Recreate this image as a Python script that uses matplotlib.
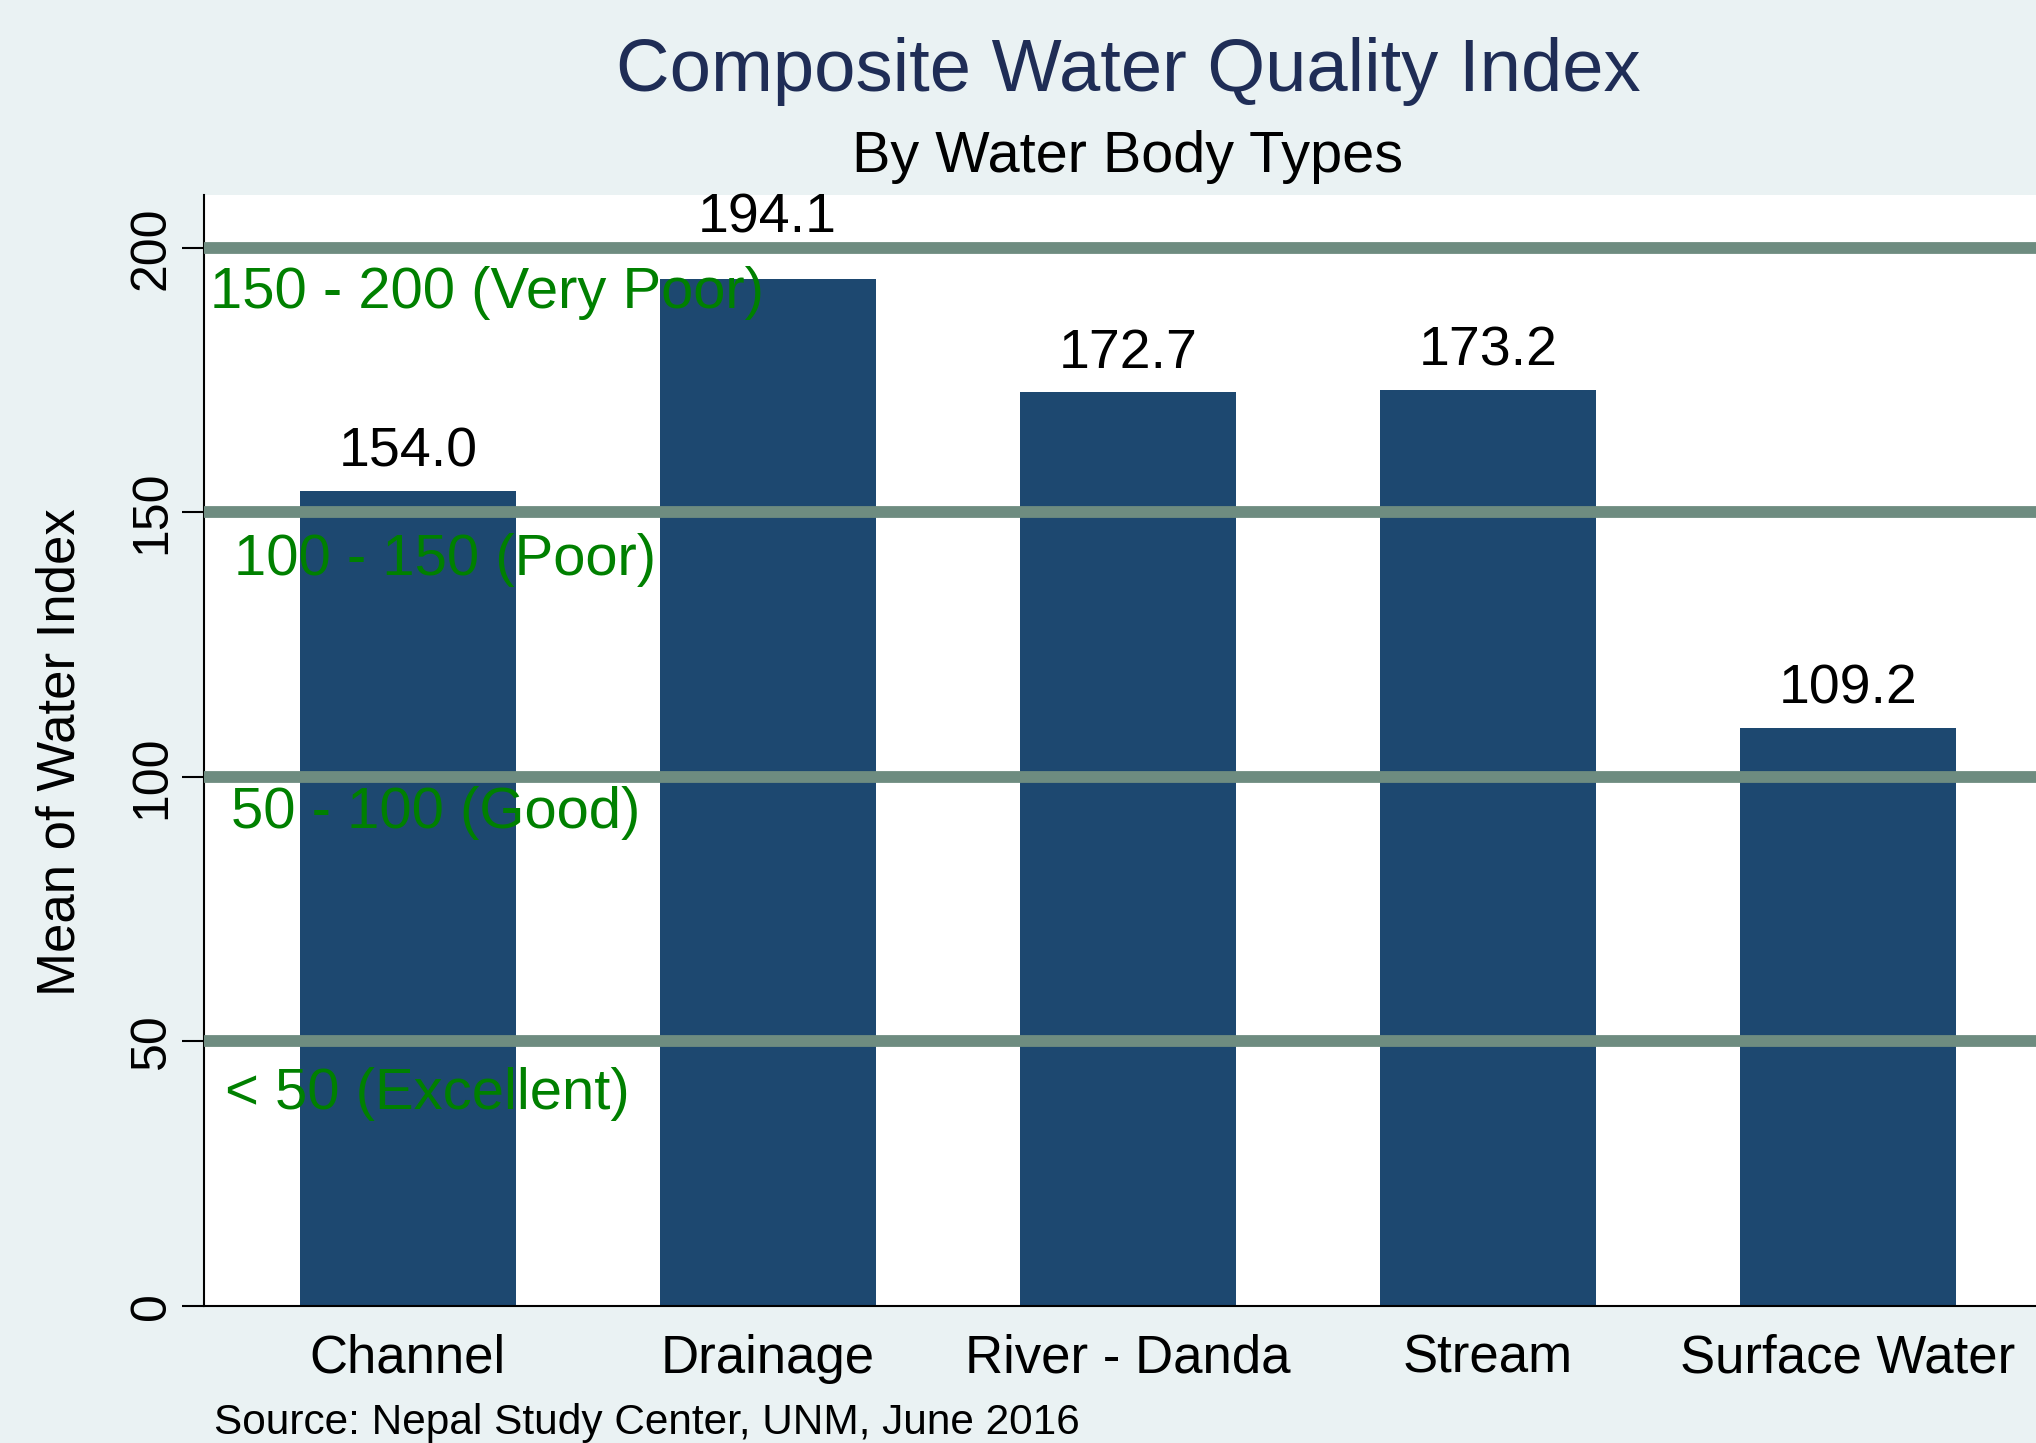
import matplotlib
matplotlib.use("Agg")
import matplotlib.pyplot as plt

plt.rcParams['font.family'] = ['Liberation Sans', 'DejaVu Sans']

# Mean composite water quality index by water body type
categories = ['Channel', 'Drainage', 'River - Danda', 'Stream', 'Surface Water']
mean_index = [154.0, 194.1, 172.7, 173.2, 109.2]

# Reference bands drawn as horizontal lines
band_levels = [200, 150, 100, 50]
band_labels = ['150 - 200 (Very Poor)', '100 - 150 (Poor)', '50 - 100 (Good)', '< 50 (Excellent)']
y_ticks = [0, 50, 100, 150, 200]

# where the band labels sit (data coords, left edge / vertical centre)
band_label_pos = [(-0.548, 191.4), (-0.483, 141.1), (-0.490, 93.2), (-0.508, 40.0)]
# the Drainage label is pushed up clear of the 200 line
value_label_offset = [9, 25, 9, 9, 9]

bg = '#eaf2f3'
bar_color = '#1d4870'
line_color = '#6e8c80'

fig = plt.figure(figsize=(20.36, 14.43), dpi=100, facecolor=bg)
ax = fig.add_axes([204 / 2036, 1 - 1306 / 1443, 1 - 204 / 2036, (1306 - 195) / 1443])
ax.set_facecolor('white')

x = list(range(len(categories)))
ax.bar(x, mean_index, width=0.6, color=bar_color, zorder=2)

for xi, v, off in zip(x, mean_index, value_label_offset):
    ax.annotate(f'{v:.1f}', (xi, v), xytext=(0, off), textcoords='offset points',
                ha='center', va='bottom', fontsize=40, color='black', zorder=5)

for lvl, lab, (lx, ly) in zip(band_levels, band_labels, band_label_pos):
    ax.axhline(lvl, color=line_color, lw=8.5, zorder=3)
    ax.text(lx, ly, lab, ha='left', va='center', fontsize=41.8,
            color='#008000', zorder=4)

ax.set_xlim(-0.566, 4.523)
ax.set_ylim(0, 210)
ax.set_xticks(x)
ax.set_xticklabels(categories, fontsize=38)
ax.tick_params(axis='x', length=0, pad=20)
ax.set_yticks(y_ticks)
ax.set_yticklabels([str(t) for t in y_ticks], fontsize=36, rotation=90, va='center')
ax.tick_params(axis='y', length=16, width=1.5, pad=5)

for s in ['top', 'right']:
    ax.spines[s].set_visible(False)
for s in ['left', 'bottom']:
    ax.spines[s].set_linewidth(1.5)
    ax.spines[s].set_color('black')

fig.text(61 / 2036, 1 - 752 / 1443, 'Mean of Water Index', rotation=90,
         ha='center', va='center', fontsize=38)
fig.text(1128 / 2036, 1 - 72 / 1443, 'Composite Water Quality Index',
         ha='center', va='center', fontsize=53.5, color='#1f2d56')
fig.text(1128 / 2036, 1 - 157 / 1443, 'By Water Body Types',
         ha='center', va='center', fontsize=41.5, color='black')
fig.text(214 / 2036, 1 - 1423 / 1443, 'Source: Nepal Study Center, UNM, June 2016',
         ha='left', va='center', fontsize=30.5)

fig.savefig('out.png', dpi=100, facecolor=bg)
